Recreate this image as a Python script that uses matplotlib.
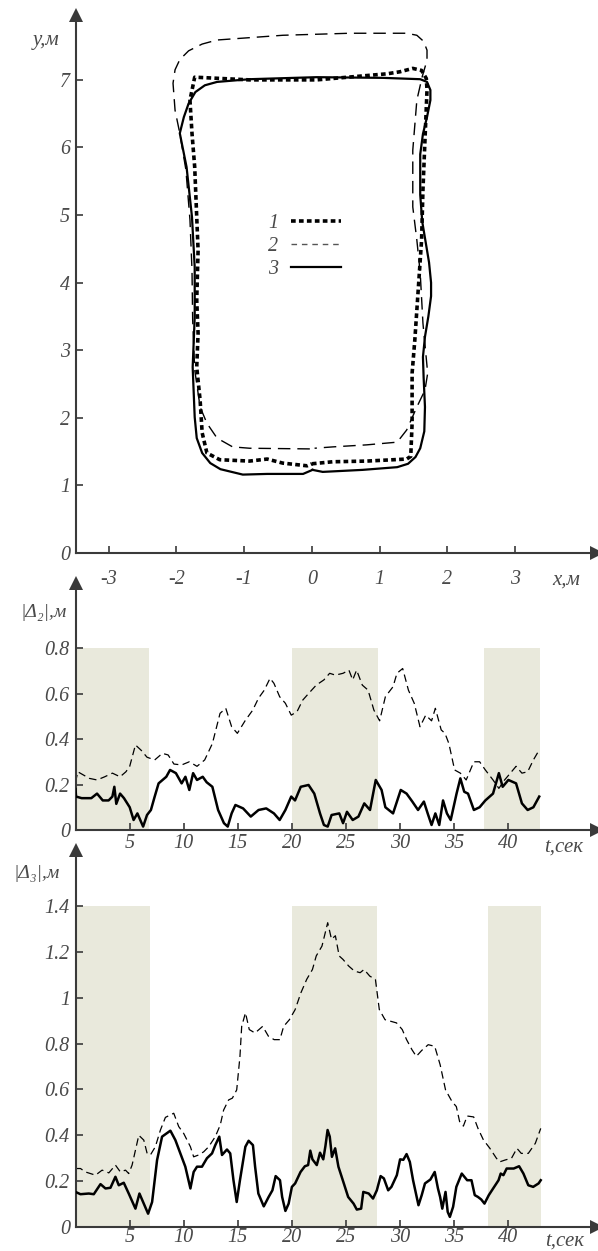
import matplotlib
matplotlib.use("Agg")
import matplotlib.pyplot as plt
from matplotlib.lines import Line2D

SERIF = ["Liberation Serif", "DejaVu Serif"]
plt.rcParams["font.family"] = SERIF
plt.rcParams["font.style"] = "italic"

# ---------------- trajectories (x, y in metres) ----------------
traj1_x = [0.00, 0.31, 0.81, 1.40, 1.46, 1.48, 1.48, 1.52, 1.57, 1.62, 1.64, 1.67, 1.70, 1.69,
           1.62, 1.49, 1.30, 1.11, 0.07, -0.92, -1.73, -1.80, -1.77, -1.73, -1.70, -1.68, -1.70,
           -1.68, -1.70, -1.65, -1.62, -1.55, -1.36, -0.92, -0.66, -0.43, -0.07, 0.00]
traj1_y = [1.32, 1.35, 1.36, 1.39, 1.43, 1.92, 2.66, 3.15, 3.89, 4.63, 5.37, 6.11, 6.85, 7.02,
           7.14, 7.17, 7.12, 7.09, 7.00, 7.00, 7.04, 6.70, 6.21, 5.71, 4.97, 4.48, 3.74,
           3.25, 2.75, 2.26, 1.78, 1.48, 1.38, 1.36, 1.39, 1.33, 1.29, 1.32]

traj2_x = [-0.03, -0.92, -1.17, -1.40, -1.55, -1.65, -1.73, -1.76, -1.77, -1.80, -1.86, -1.95,
           -2.02, -2.05, -2.02, -1.95, -1.82, -1.62, -1.40, -0.43, 0.56, 1.40, 1.55, 1.65,
           1.70, 1.70, 1.63, 1.55, 1.49, 1.49, 1.55, 1.60, 1.64, 1.71, 1.67, 1.55, 1.40,
           1.26, 0.81, 0.31, 0.04]
traj2_y = [1.54, 1.55, 1.57, 1.70, 1.92, 2.16, 2.71, 3.45, 4.19, 4.93, 5.67, 6.21,
           6.55, 6.95, 7.15, 7.30, 7.43, 7.53, 7.59, 7.66, 7.69, 7.69, 7.66, 7.57,
           7.44, 7.29, 7.05, 6.70, 5.96, 5.12, 4.63, 4.14, 3.40, 2.66, 2.41, 2.16, 1.82,
           1.64, 1.60, 1.57, 1.55]

traj3_x = [0.01, 0.16, 0.75, 1.26, 1.42, 1.53, 1.60, 1.66, 1.67, 1.65, 1.64, 1.67, 1.72, 1.76,
           1.76, 1.73, 1.68, 1.63, 1.60, 1.60, 1.64, 1.70, 1.75, 1.75, 1.70, 1.60, 1.05, 0.07,
           -0.92, -1.40, -1.58, -1.72, -1.82, -1.89, -1.95, -1.85, -1.77, -1.73, -1.73, -1.76,
           -1.73, -1.70, -1.62, -1.50, -1.35, -1.02, -0.66, -0.13, 0.01]
traj3_y = [1.23, 1.20, 1.23, 1.27, 1.32, 1.42, 1.55, 1.80, 2.16, 2.60, 2.90, 3.20, 3.50, 3.80,
           4.00, 4.30, 4.60, 4.90, 5.30, 5.90, 6.20, 6.45, 6.70, 6.85, 6.97, 7.01, 7.03, 7.04,
           7.01, 6.97, 6.92, 6.82, 6.65, 6.45, 6.21, 5.71, 4.97, 4.23, 3.49, 2.75,
           2.01, 1.70, 1.48, 1.33, 1.24, 1.16, 1.17, 1.17, 1.23]

# ---------------- |Δ2| time series ----------------
d2_solid_t = [0.0, 0.05, 0.57, 1.46, 1.99, 2.52, 3.06, 3.41, 3.59, 3.77, 4.12, 4.48, 5.01, 5.37,
              5.72, 6.25, 6.61, 6.97, 7.32, 7.68, 8.39, 8.74, 9.28, 9.81, 10.16, 10.52, 10.87,
              11.23, 11.76, 12.12, 12.65, 13.18, 13.72, 14.07, 14.43, 14.78, 15.49, 16.20,
              16.92, 17.63, 18.34, 18.87, 19.40, 19.94, 20.29, 20.82, 21.54, 22.07, 22.60,
              22.96, 23.31, 23.67, 24.38, 24.73, 25.09, 25.62, 26.15, 26.69, 27.22, 27.75,
              28.29, 28.64, 29.35, 30.06, 30.60, 31.13, 31.66, 32.20, 32.55, 32.91, 33.26,
              33.62, 33.97, 34.33, 34.68, 35.22, 35.57, 35.93, 36.28, 36.82, 37.35, 37.88,
              38.59, 39.13, 39.48, 40.01, 40.72, 41.26, 41.79, 42.32, 42.86]
d2_solid = [0.18, 0.147, 0.14, 0.14, 0.16, 0.13, 0.13, 0.147, 0.19, 0.115, 0.16, 0.14, 0.10, 0.044,
            0.073, 0.015, 0.066, 0.088, 0.147, 0.205, 0.234, 0.264, 0.25, 0.205, 0.234, 0.176, 0.25,
            0.22, 0.234, 0.21, 0.19, 0.088, 0.03, 0.015, 0.073, 0.11, 0.095, 0.059,
            0.088, 0.095, 0.073, 0.044, 0.088, 0.147, 0.13, 0.19, 0.198, 0.16, 0.073,
            0.022, 0.015, 0.066, 0.073, 0.03, 0.08, 0.044, 0.059, 0.117, 0.088, 0.22,
            0.176, 0.10, 0.073, 0.176, 0.16, 0.125, 0.088, 0.125, 0.073, 0.022, 0.073,
            0.022, 0.13, 0.073, 0.044, 0.16, 0.227, 0.168, 0.16, 0.088, 0.10, 0.13,
            0.16, 0.25, 0.19, 0.22, 0.205, 0.117, 0.088, 0.10, 0.147]

d2_dash_t = [0.0, 0.21, 1.28, 1.99, 2.70, 3.41, 4.12, 4.66, 5.01, 5.54, 6.08, 6.61, 7.32, 8.03,
             8.56, 9.10, 9.81, 10.52, 11.23, 11.94, 12.65, 13.36, 13.89, 14.43, 14.96, 15.67,
             16.38, 16.92, 17.45, 17.98, 18.34, 18.87, 19.40, 19.94, 20.47, 21.00, 21.54,
             22.25, 22.96, 23.49, 24.02, 24.73, 25.27, 25.62, 25.98, 26.51, 27.04, 27.58,
             28.11, 28.64, 29.35, 29.71, 30.24, 30.77, 31.31, 31.84, 32.37, 32.91, 33.26,
             33.80, 34.15, 34.51, 35.04, 35.57, 36.11, 36.82, 37.35, 37.88, 38.59, 39.13,
             39.66, 40.19, 40.72, 41.26, 41.79, 42.32, 42.86]
d2_dash = [0.21, 0.256, 0.227, 0.22, 0.234, 0.25, 0.234, 0.256, 0.28, 0.374, 0.35, 0.32, 0.308, 0.337,
           0.33, 0.29, 0.286, 0.30, 0.28, 0.308, 0.38, 0.513, 0.535, 0.454, 0.425, 0.48,
           0.527, 0.58, 0.615, 0.667, 0.645, 0.586, 0.557, 0.505, 0.52, 0.571, 0.60,
           0.637, 0.66, 0.689, 0.681, 0.689, 0.703, 0.66, 0.703, 0.637, 0.615, 0.527,
           0.48, 0.586, 0.63, 0.689, 0.71, 0.615, 0.557, 0.454, 0.505, 0.48, 0.535,
           0.44, 0.425, 0.38, 0.264, 0.25, 0.22, 0.30, 0.30, 0.264, 0.22, 0.183,
           0.22, 0.25, 0.28, 0.25, 0.256, 0.308, 0.352]

# ---------------- |Δ3| time series ----------------
d3_solid_t = [0.0, 0.46, 1.23, 1.69, 2.31, 2.77, 3.23, 3.69, 4.0, 4.46, 4.92, 5.54, 5.91, 6.31,
              6.71, 7.08, 7.54, 8.0, 8.77, 9.23, 9.69, 10.15, 10.62, 10.92, 11.23, 11.69, 12.15,
              12.62, 12.92, 13.29, 13.54, 14.0, 14.3, 14.6, 14.9, 15.2, 15.7, 16.0, 16.4,
              16.6, 16.9, 17.4, 17.85, 18.2, 18.5, 18.9, 19.1, 19.4, 19.7, 20.0, 20.3,
              20.8, 21.2, 21.5, 21.7, 21.9, 22.3, 22.6, 22.9, 23.1, 23.3, 23.5, 23.7,
              24.0, 24.3, 24.8, 25.2, 25.7, 26.0, 26.4, 26.6, 27.1, 27.5, 27.85, 28.2,
              28.5, 28.9, 29.2, 29.7, 30.0, 30.3, 30.6, 30.9, 31.2, 31.7, 32.0, 32.3,
              32.8, 33.2, 33.5, 33.7, 33.9, 34.2, 34.4, 34.6, 34.9, 35.2, 35.7, 36.2,
              36.6, 36.9, 37.2, 37.5, 37.8, 38.2, 38.6, 39.1, 39.3, 39.55, 39.85, 40.5,
              41.0, 41.4, 41.85, 42.3, 42.8, 43.0]
d3_solid = [0.153, 0.143, 0.146, 0.143, 0.187, 0.168, 0.171, 0.219, 0.182, 0.193, 0.146, 0.08, 0.146, 0.102,
            0.058, 0.109, 0.292, 0.394, 0.42, 0.379, 0.321, 0.263, 0.168, 0.24, 0.263, 0.263, 0.30,
            0.321, 0.357, 0.394, 0.314, 0.338, 0.321, 0.204, 0.109, 0.204, 0.35, 0.376, 0.357,
            0.263, 0.146, 0.09, 0.131, 0.16, 0.222, 0.204, 0.131, 0.07, 0.102, 0.175, 0.19,
            0.24, 0.265, 0.27, 0.333, 0.295, 0.27, 0.324, 0.295, 0.353, 0.423, 0.394, 0.306,
            0.343, 0.263, 0.19, 0.131, 0.102, 0.076, 0.08, 0.153, 0.146, 0.124, 0.16, 0.222,
            0.212, 0.16, 0.175, 0.226, 0.295, 0.293, 0.318, 0.284, 0.204, 0.095, 0.139, 0.19,
            0.207, 0.24, 0.168, 0.131, 0.08, 0.153, 0.066, 0.044, 0.088, 0.175, 0.233, 0.204,
            0.204, 0.139, 0.131, 0.12, 0.102, 0.139, 0.168, 0.204, 0.233, 0.226, 0.255, 0.255,
            0.265, 0.233, 0.182, 0.175, 0.19, 0.204]

d3_dash_t = [0.0, 0.46, 0.92, 1.85, 2.46, 3.08, 3.69, 4.15, 4.62, 4.92, 5.23, 5.85, 6.31, 6.62,
             6.92, 7.38, 7.85, 8.31, 9.08, 9.54, 10.0, 10.62, 10.92, 11.38, 11.85, 12.31, 12.92,
             13.38, 13.69, 14.15, 14.5, 14.9, 15.2, 15.36, 15.71, 16.06, 16.59, 17.30, 17.83,
             18.36, 18.89, 19.24, 19.77, 20.30, 20.83, 21.37, 21.90, 22.25, 22.78, 23.31,
             23.66, 24.02, 24.37, 24.72, 25.25, 25.78, 26.31, 26.67, 27.20, 27.72, 28.08,
             28.61, 29.14, 29.67, 30.20, 30.6, 31.1, 31.5, 32.0, 32.6, 33.2, 33.7, 34.2,
             34.8, 35.2, 35.5, 35.85, 36.2, 36.8, 37.2, 37.7, 38.3, 38.9, 39.2, 39.7, 40.3,
             40.8, 41.2, 41.85, 42.5, 43.0]
d3_dash = [0.255, 0.255, 0.24, 0.226, 0.248, 0.236, 0.27, 0.24, 0.248, 0.233, 0.27, 0.40, 0.379, 0.321,
           0.314, 0.35, 0.423, 0.478, 0.496, 0.438, 0.408, 0.35, 0.306, 0.314, 0.328, 0.35, 0.394,
           0.445, 0.51, 0.554, 0.562, 0.598, 0.744, 0.875, 0.934, 0.861, 0.846, 0.875, 0.832,
           0.817, 0.817, 0.875, 0.904, 0.948, 1.021, 1.08, 1.123, 1.182, 1.225, 1.327,
           1.255, 1.27, 1.182, 1.167, 1.138, 1.116, 1.109, 1.123, 1.094, 1.08, 0.948,
           0.904, 0.897, 0.89, 0.861, 0.817, 0.773, 0.744, 0.77, 0.795, 0.788, 0.708, 0.598,
           0.547, 0.525, 0.46, 0.44, 0.484, 0.48, 0.43, 0.38, 0.343, 0.30, 0.284, 0.292, 0.30,
           0.343, 0.321, 0.321, 0.365, 0.43]

# shaded time intervals (start, end) and their heights
d2_shade = [(0.0, 6.8), (20.0, 28.0), (37.8, 42.9)]
d2_shade_top = 0.8
d3_shade = [(0.0, 6.9), (20.0, 27.9), (38.1, 43.0)]
d3_shade_top = 1.4

x_ticks_top = [-3, -2, -1, 0, 1, 2, 3]
x_ticklabels_top = ["-3", "-2", "-1", "0", "1", "2", "3"]
y_ticks_top = [0, 1, 2, 3, 4, 5, 6, 7]
t_ticks = [5, 10, 15, 20, 25, 30, 35, 40]
d2_yticks = [0, 0.2, 0.4, 0.6, 0.8]
d2_yticklabels = ["0", "0.2", "0.4", "0.6", "0.8"]
d3_yticks = [0, 0.2, 0.4, 0.6, 0.8, 1.0, 1.2, 1.4]
d3_yticklabels = ["0", "0.2", "0.4", "0.6", "0.8", "1", "1.2", "1.4"]
legend_labels = ["1", "2", "3"]

# ---------------- figure ----------------
W, H = 598, 1251
fig = plt.figure(figsize=(W / 100, H / 100), dpi=100)
fig.patch.set_facecolor("white")

L = 75.5 / W
Wd = 521.5 / W
ax1 = fig.add_axes([L, 1 - 553 / H, Wd, 538 / H])
ax2 = fig.add_axes([L, 1 - 830 / H, Wd, 247 / H])
ax3 = fig.add_axes([L, 1 - 1227 / H, Wd, 377 / H])

AXC = "#3a3a3a"
TXC = "#4a4a4a"
SHADE = "#e9e9dc"
TICKSIZE = 14.5


def style(ax):
    for s in ("top", "right"):
        ax.spines[s].set_visible(False)
    for s in ("left", "bottom"):
        ax.spines[s].set_color(AXC)
        ax.spines[s].set_linewidth(1.5)
    ax.tick_params(direction="in", length=5, width=1.2, color=AXC,
                   labelcolor=TXC, labelsize=TICKSIZE)
    ax.plot(1, 0, ">", transform=ax.transAxes, clip_on=False, color=AXC, ms=10, mew=0)
    ax.plot(0, 1, "^", transform=ax.transAxes, clip_on=False, color=AXC, ms=10, mew=0)
    ax.set_facecolor("none")


# --- top: trajectories ---
style(ax1)
ax1.set_xlim(-3.49, 4.21)
ax1.set_ylim(0, 7.96)
ax1.plot(traj1_x, traj1_y, color="black", lw=2.6, ls=(0, (1.3, 0.9)),
         dash_capstyle="butt", label=legend_labels[0], zorder=3)
ax1.plot(traj2_x, traj2_y, color="black", lw=1.0, ls=(0, (9, 5)),
         label=legend_labels[1], zorder=2)
ax1.plot(traj3_x, traj3_y, color="black", lw=1.6, ls="-",
         label=legend_labels[2], zorder=2)
ax1.set_xticks(x_ticks_top)
ax1.set_xticklabels(x_ticklabels_top)
ax1.set_yticks(y_ticks_top)
ax1.tick_params(axis="x", pad=12)
ax1.tick_params(axis="y", pad=4)
handles = [Line2D([], [], color="black", lw=2.6, ls=(0, (1.3, 0.9)), dash_capstyle="butt"),
           Line2D([], [], color="#555555", lw=1.0, ls=(0, (4, 3.5))),
           Line2D([], [], color="black", lw=1.6)]
ax1.legend(handles, legend_labels, loc="upper left", bbox_to_anchor=(0.37, 0.63),
           frameon=False, markerfirst=False, handlelength=2.5, handletextpad=0.6,
           labelspacing=0.2, borderpad=0, borderaxespad=0,
           prop={"family": SERIF, "style": "italic", "size": 14.5})
for txt in ax1.get_legend().get_texts():
    txt.set_color(TXC)

# --- middle: |Δ2| ---
style(ax2)
ax2.set_xlim(0, 48.2)
ax2.set_ylim(0, 1.086)
for a, b in d2_shade:
    ax2.fill_between([a, b], 0, d2_shade_top, color=SHADE, lw=0, zorder=0)
ax2.plot(d2_dash_t, d2_dash, color="black", lw=0.9, ls=(0, (6, 3.5)), zorder=2)
ax2.plot(d2_solid_t, d2_solid, color="black", lw=1.8, zorder=3)
ax2.set_xticks(t_ticks)
ax2.set_yticks(d2_yticks)
ax2.set_yticklabels(d2_yticklabels)
ax2.tick_params(axis="x", pad=3)
ax2.tick_params(axis="y", pad=4)

# --- bottom: |Δ3| ---
style(ax3)
ax3.set_xlim(0, 48.2)
ax3.set_ylim(0, 1.644)
for a, b in d3_shade:
    ax3.fill_between([a, b], 0, d3_shade_top, color=SHADE, lw=0, zorder=0)
ax3.plot(d3_dash_t, d3_dash, color="black", lw=0.9, ls=(0, (6, 3.5)), zorder=2)
ax3.plot(d3_solid_t, d3_solid, color="black", lw=1.8, zorder=3)
ax3.set_xticks(t_ticks)
ax3.set_yticks(d3_yticks)
ax3.set_yticklabels(d3_yticklabels)
ax3.tick_params(axis="x", pad=1)
ax3.tick_params(axis="y", pad=4)

# --- axis name labels ---
lab = dict(color=TXC, ha="center", va="center", family=SERIF, style="italic")
fig.text(46 / W, 1 - 40 / H, "y,м", fontsize=15, **lab)
fig.text(566 / W, 1 - 580 / H, "x,м", fontsize=15, **lab)
fig.text(44 / W, 1 - 612 / H, "|Δ₂|,м", fontsize=14, **lab)
fig.text(564 / W, 1 - 847 / H, "t,сек", fontsize=15, **lab)
fig.text(37 / W, 1 - 873 / H, "|Δ₃|,м", fontsize=14, **lab)
fig.text(565 / W, 1 - 1241 / H, "t,сек", fontsize=15, **lab)

fig.savefig("out.png", dpi=100, facecolor="white")
